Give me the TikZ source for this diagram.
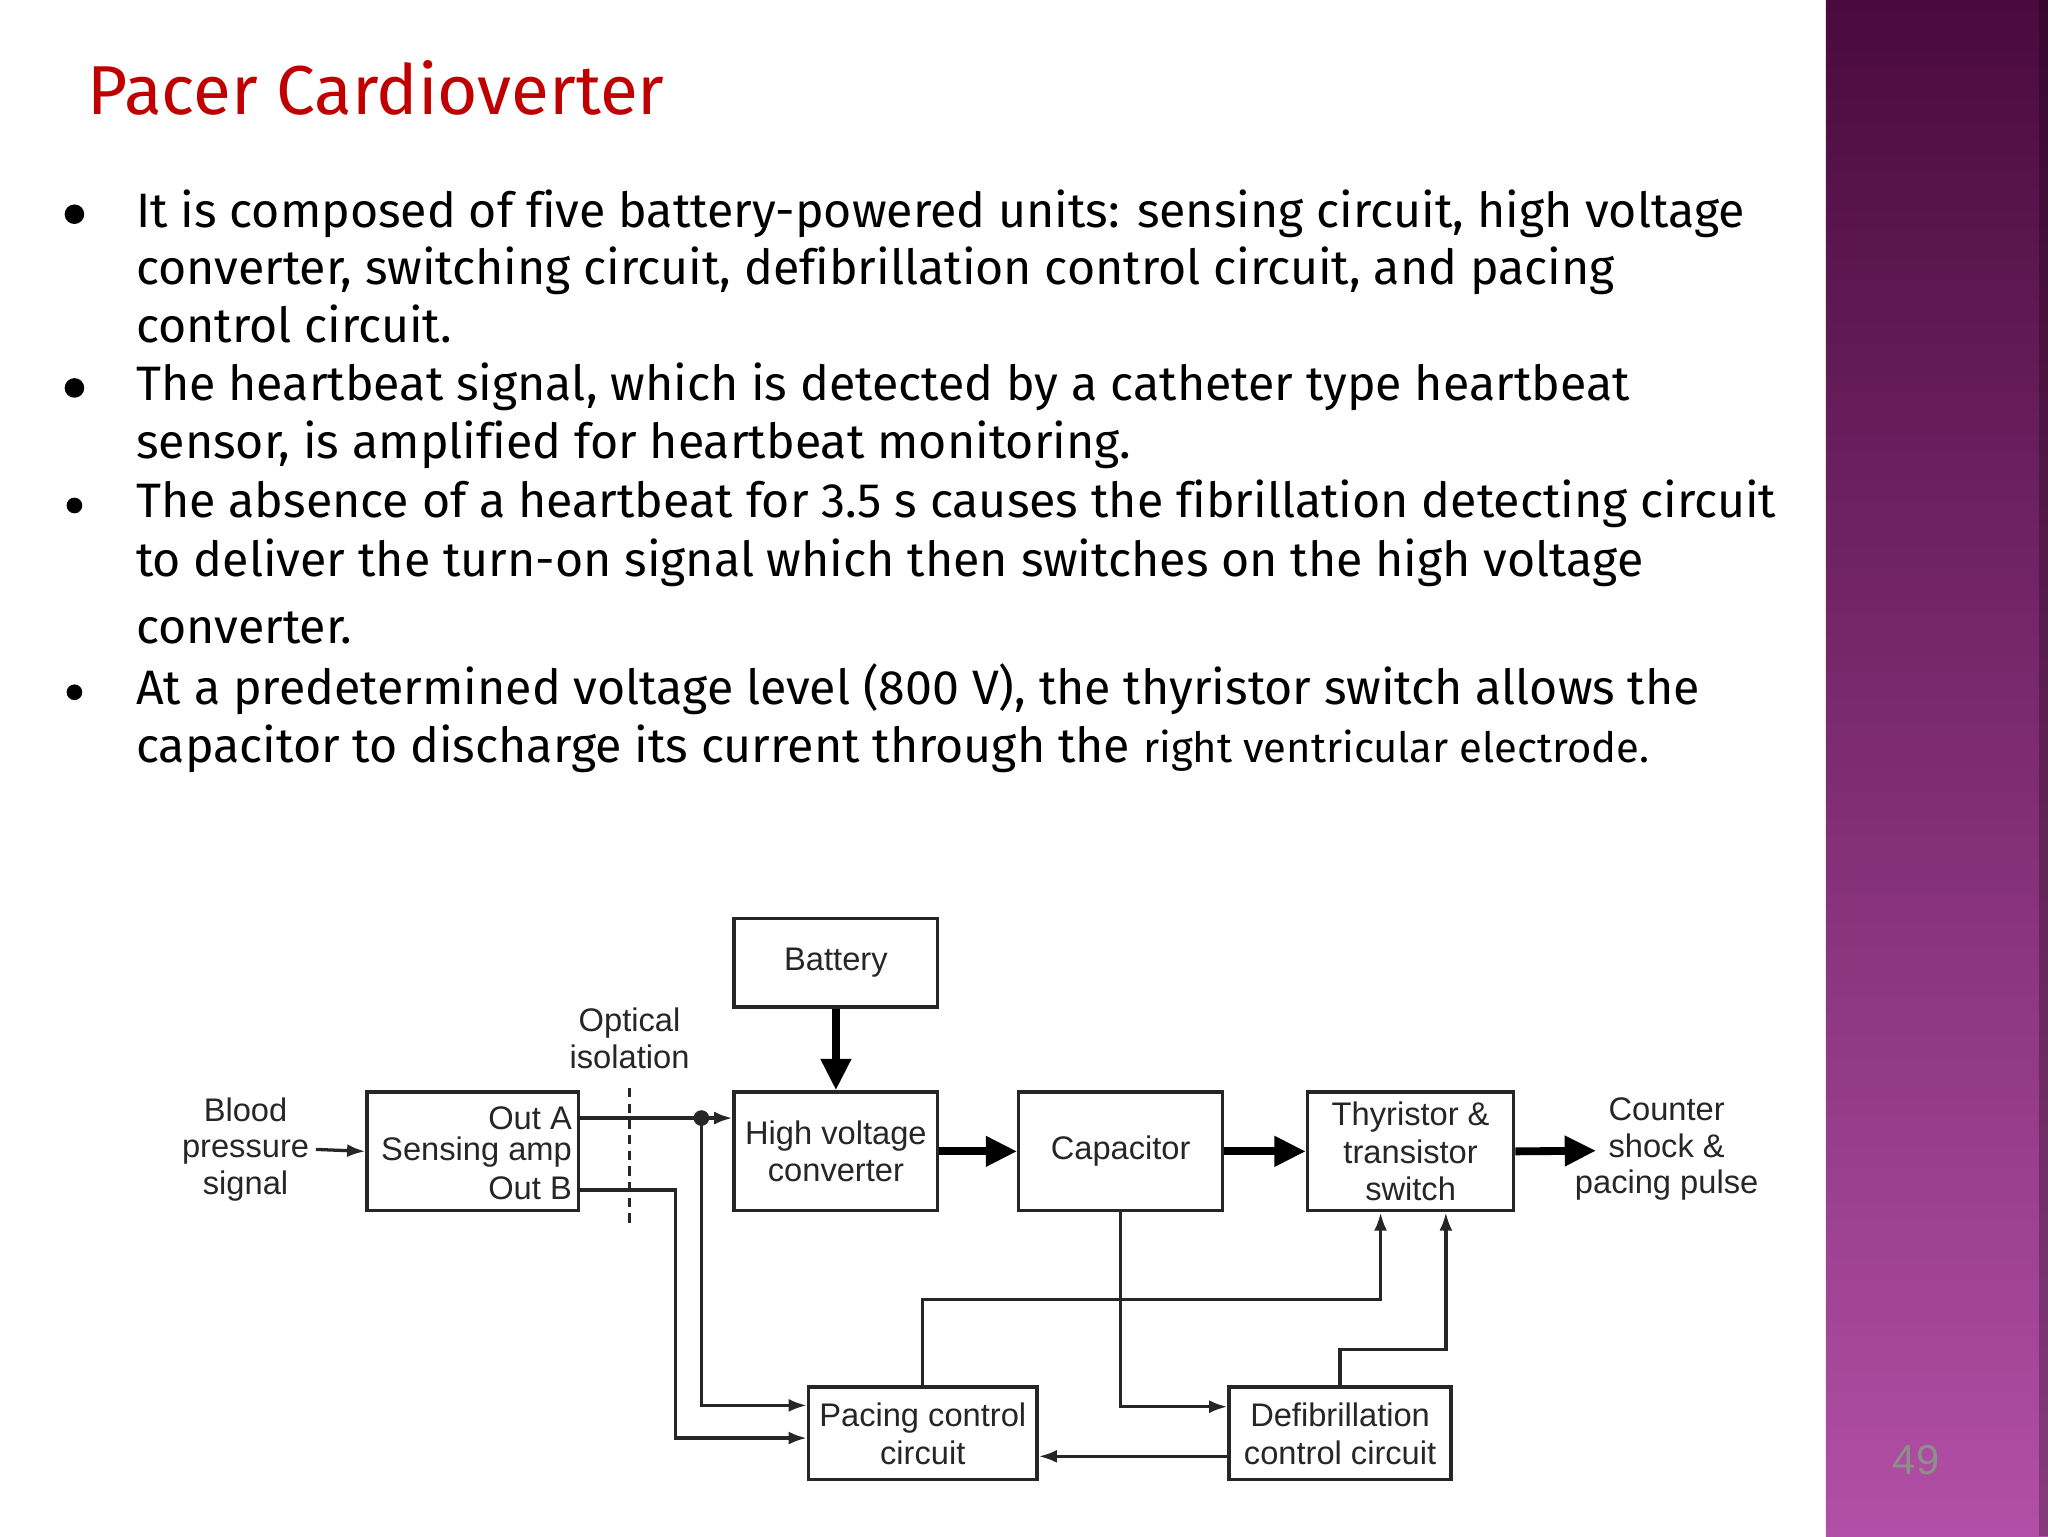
\documentclass[tikz,border=0pt]{standalone}
\usepackage{fontspec}
\setmainfont[Ligatures=CommonOff]{Fira Sans}
\newfontfamily\diag{Liberation Sans}
\usetikzlibrary{arrows.meta,calc}
\definecolor{titlered}{HTML}{C00000}
\definecolor{diagink}{HTML}{262626}
\definecolor{bartop}{HTML}{4A0A3E}
\definecolor{barmid}{HTML}{7C2E70}
\definecolor{barbot}{HTML}{B24FA6}
\definecolor{numgrey}{HTML}{8E8E8A}
\begin{document}
\begin{tikzpicture}[x=1pt,y=-1pt,
  bodyline/.style={anchor=base west,inner sep=0pt,font=\fontsize{37}{44}\selectfont},
  blk/.style={draw=diagink,line width=2.5pt,inner sep=0pt,align=center,text=diagink,
    font=\diag\fontsize{25}{29}\selectfont},
  lbl/.style={inner sep=2pt,align=center,text=diagink,font=\diag\fontsize{25}{28}\selectfont},
  wire/.style={draw=diagink,line width=2.5pt},
  thinarrow/.style={wire,-{Latex[length=14pt,width=10pt]}},
  bigarrow/.style={draw=black,line width=6pt,-{Triangle[length=24pt,width=22pt]}}]
\useasboundingbox (0,0) rectangle (1568,1176);
\fill[white] (0,0) rectangle (1568,1176);
% side bar
\shade[top color=bartop,middle color=barmid,bottom color=barbot] (1398,0) rectangle (1568,1176);
\fill[black,opacity=0.25] (1561,0) rectangle (1568,1176);
\node[font=\diag\fontsize{32}{32}\selectfont,text=numgrey] (pnum) at (1467,1118) {49};
% title
\node[anchor=base west,inner sep=0pt,text=titlered,font=\fontsize{53}{60}\selectfont] (title) at (67,88) {Pacer Cardioverter};
% bullets
\fill (57,164) circle (7.5);
\fill (57,297) circle (7.5);
\fill (57,387) circle (6);
\fill (57,530) circle (6);
\node[bodyline] (l1) at (104,174) {It is composed of five battery-powered units: sensing circuit, high voltage};
\node[bodyline] (l2) at (104,218) {converter, switching circuit, defibrillation control circuit, and pacing};
\node[bodyline] (l3) at (104,262) {control circuit.};
\node[bodyline] (l4) at (104,307) {The heartbeat signal, which is detected by a catheter type heartbeat};
\node[bodyline] (l5) at (104,351) {sensor, is amplified for heartbeat monitoring.};
\node[bodyline] (l6) at (104,396) {The absence of a heartbeat for 3.5 s causes the fibrillation detecting circuit};
\node[bodyline] (l7) at (104,441) {to deliver the turn-on signal which then switches on the high voltage};
\node[bodyline] (l8) at (104,493) {converter.};
\node[bodyline] (l9) at (104,539) {At a predetermined voltage level (800 V), the thyristor switch allows the};
\node[bodyline] (l10) at (104,584) {capacitor to discharge its current through the {\fontsize{32}{40}\selectfont right ventricular electrode.}};
% diagram blocks
\node[blk,minimum width=156pt,minimum height=68pt] (bat) at (640,737) {Battery};
\node[blk,minimum width=162pt,minimum height=91pt] (sens) at (362,881.5) {};
\node[lbl,anchor=east,inner sep=0pt] (outa) at (438,856) {Out A};
\node[lbl,anchor=east,inner sep=0pt] (samp) at (438,882) {Sensing amp};
\node[lbl,anchor=east,inner sep=0pt] (outb) at (438,910) {Out B};
\node[blk,minimum width=156pt,minimum height=91pt] (hv) at (640,881.5) {High voltage\\converter};
\node[blk,minimum width=156pt,minimum height=91pt] (cap) at (858,881.5) {Capacitor};
\node[blk,minimum width=158pt,minimum height=91pt] (thy) at (1080,881.5) {Thyristor \&\\transistor\\switch};
\node[blk,minimum width=175pt,minimum height=71pt] (pace) at (706.5,1097.5) {Pacing control\\circuit};
\node[blk,minimum width=170pt,minimum height=71pt] (defib) at (1026,1097.5) {Defibrillation\\control circuit};
% labels
\node[lbl,inner sep=5pt] (bp) at (188,880) {Blood\\pressure\\signal};
\node[lbl] (opt) at (482,795) {Optical\\isolation};
\node[lbl] (ct) at (1276,880) {Counter\\shock \&\\pacing pulse};
% optical isolation dashed line
\coordinate (isotop) at (482,833);
\coordinate (isobot) at (482,937);
\draw[wire,dash pattern=on 7pt off 5pt] (isotop) -- (isobot);
% connectors
\draw[thinarrow] (bp.east) -- (sens.west);
\coordinate (dot) at (537,856);
\draw[wire] (sens.east |- dot) -- (dot);
\draw[thinarrow] (dot) -- (hv.west |- dot);
\fill[diagink] (dot) circle (6);
\draw[thinarrow] (dot) |- (pace.west |- 0,1076);
\draw[thinarrow] (sens.east |- 0,911) -- (517,911) |- (pace.west |- 0,1101);
\draw[thinarrow] (cap.south) |- (defib.west |- 0,1077);
\draw[thinarrow] (pace.north) |- (1057,995) -- ($(thy.south)+(-23,0)$);
\draw[thinarrow] (defib.north) |- (1107,1033) -- ($(thy.south)+(27,0)$);
\draw[thinarrow] (defib.west |- 0,1115) -- (pace.east |- 0,1115);
% power path
\coordinate (ctin) at (1222,881);
\draw[bigarrow] (bat.south) -- (hv.north);
\draw[bigarrow] (hv.east) -- (cap.west);
\draw[bigarrow] (cap.east) -- (thy.west);
\draw[bigarrow] (thy.east) -- (ctin);
\end{tikzpicture}
\end{document}
